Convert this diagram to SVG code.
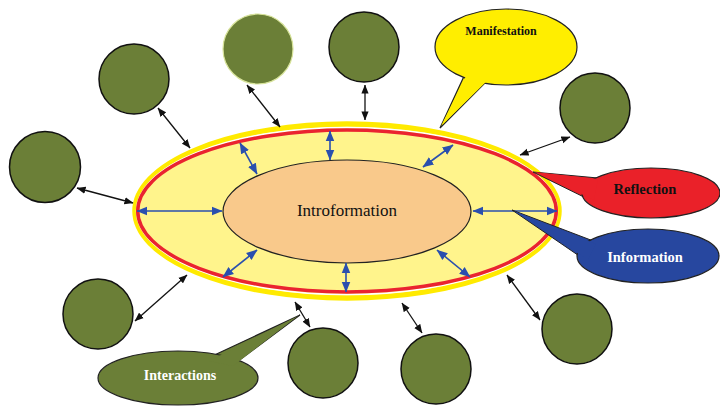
<svg xmlns="http://www.w3.org/2000/svg" width="720" height="406" viewBox="0 0 720 406">
  <style>
    .sat { fill: #6b7f37; stroke: #111; stroke-width: 1.5; }
    .blk { stroke: #111; stroke-width: 1.3; fill: none; marker-start: url(#hk); marker-end: url(#hk); }
    .blu { stroke: #2a4fae; stroke-width: 1.6; fill: none; marker-start: url(#hb); marker-end: url(#hb); }
    .lbl { font-family: "Liberation Serif", "Times New Roman", serif; font-weight: bold; text-anchor: middle; }
  </style>
  <defs>
    <marker id="hk" viewBox="0 0 10 8" refX="9.5" refY="4" markerWidth="9" markerHeight="8" markerUnits="userSpaceOnUse" orient="auto-start-reverse">
      <path d="M0,0 L10,4 L0,8 z" fill="#111"/>
    </marker>
    <marker id="hb" viewBox="0 0 10 8" refX="9.5" refY="4" markerWidth="11" markerHeight="9.5" markerUnits="userSpaceOnUse" orient="auto-start-reverse">
      <path d="M0,0 L10,4 L0,8 z" fill="#2a4fae"/>
    </marker>
  </defs>

  <rect width="720" height="406" fill="#ffffff"/>

  <!-- central body: outer ring and inner core -->
  <g id="outer-ring">
    <ellipse cx="347" cy="211" rx="212" ry="87" fill="#fff48c" stroke="#ffea00" stroke-width="5.5"/>
    <ellipse cx="347" cy="211" rx="210.5" ry="83.6" fill="none" stroke="#ffffff" stroke-width="1.5"/>
    <ellipse cx="347" cy="211" rx="209.3" ry="81" fill="none" stroke="#ea2330" stroke-width="3.5"/>
  </g>
  <g id="introformation">
    <ellipse cx="347" cy="211.5" rx="124" ry="51.5" fill="#f9c98b" stroke="#222" stroke-width="1.2"/>
    <text x="347" y="216" font-family="'Liberation Serif', 'Times New Roman', serif" font-size="17" text-anchor="middle" fill="#111">Introformation</text>
  </g>

  <!-- connectors -->
  <g id="connectors">
    <line class="blu" x1="137" y1="211" x2="222" y2="211"/>
    <line class="blu" x1="473" y1="211" x2="557" y2="211"/>
    <line class="blu" x1="330" y1="131" x2="330" y2="160"/>
    <line class="blu" x1="346" y1="263" x2="346" y2="292"/>
    <line class="blu" x1="240" y1="143" x2="257" y2="174"/>
    <line class="blu" x1="223" y1="277" x2="257" y2="250"/>
    <line class="blu" x1="453" y1="145" x2="423" y2="167"/>
    <line class="blu" x1="437" y1="250" x2="470" y2="277"/>

    <line class="blk" x1="77" y1="188" x2="133" y2="203"/>
    <line class="blk" x1="158" y1="108" x2="190" y2="148"/>
    <line class="blk" x1="247" y1="85" x2="280" y2="127"/>
    <line class="blk" x1="365" y1="85" x2="365" y2="120"/>
    <line class="blk" x1="570" y1="137" x2="520" y2="155"/>
    <line class="blk" x1="540" y1="320" x2="507" y2="275"/>
    <line class="blk" x1="422" y1="333" x2="402" y2="303"/>
    <line class="blk" x1="310" y1="327" x2="295" y2="302"/>
    <line class="blk" x1="135" y1="321" x2="187" y2="275"/>
  </g>

  <!-- satellite nodes -->
  <g id="node-left"><circle class="sat" cx="45" cy="167" r="35.5"/></g>
  <g id="node-upper-left"><circle class="sat" cx="134" cy="79" r="35"/></g>
  <g id="node-top-left"><circle cx="258" cy="49" r="35" fill="#6b7f37" stroke="#d7e39a" stroke-width="1.2"/></g>
  <g id="node-top"><circle class="sat" cx="364" cy="47" r="35"/></g>
  <g id="node-upper-right"><circle class="sat" cx="595" cy="108" r="35"/></g>
  <g id="node-lower-right"><circle class="sat" cx="577" cy="329" r="35"/></g>
  <g id="node-bottom-right"><circle class="sat" cx="436" cy="369" r="35"/></g>
  <g id="node-bottom"><circle class="sat" cx="323" cy="363" r="35"/></g>
  <g id="node-bottom-left"><circle class="sat" cx="98" cy="314" r="35"/></g>

  <!-- callouts -->
  <g id="callout-manifestation">
    <polygon points="440,128 466,72 492,76" fill="#ffee00" stroke="#222" stroke-width="1.2"/>
    <ellipse cx="506" cy="47" rx="71" ry="38" fill="#ffee00" stroke="#222" stroke-width="1.2"/>
    <polygon points="441,126 467,74 490,78" fill="#ffee00"/>
    <text class="lbl" x="501" y="35" font-size="12" fill="#111">Manifestation</text>
  </g>
  <g id="callout-reflection">
    <polygon points="533,172 598,178 594,202" fill="#ea2129" stroke="#222" stroke-width="1"/>
    <ellipse cx="651" cy="193" rx="69" ry="25" fill="#ea2129" stroke="#222" stroke-width="1.2"/>
    <polygon points="535,172 598,179 594,200" fill="#ea2129"/>
    <text class="lbl" x="645" y="194" font-size="14.5" fill="#111">Reflection</text>
  </g>
  <g id="callout-information">
    <polygon points="512,210 596,242 588,262" fill="#27479f" stroke="#222" stroke-width="1"/>
    <ellipse cx="648" cy="256" rx="71" ry="27" fill="#27479f" stroke="#222" stroke-width="1.2"/>
    <polygon points="514,211 596,244 588,260" fill="#27479f"/>
    <text class="lbl" x="645" y="262" font-size="14.5" fill="#ffffff">Information</text>
  </g>
  <g id="callout-interactions">
    <polygon points="300,315 208,358 234,364" fill="#6b7f37" stroke="#222" stroke-width="1.2"/>
    <ellipse cx="178" cy="378" rx="80" ry="27" fill="#6b7f37" stroke="#222" stroke-width="1.2"/>
    <polygon points="298,316 209,361 233,366" fill="#6b7f37"/>
    <text class="lbl" x="180" y="380" font-size="14" fill="#ffffff">Interactions</text>
  </g>
</svg>
